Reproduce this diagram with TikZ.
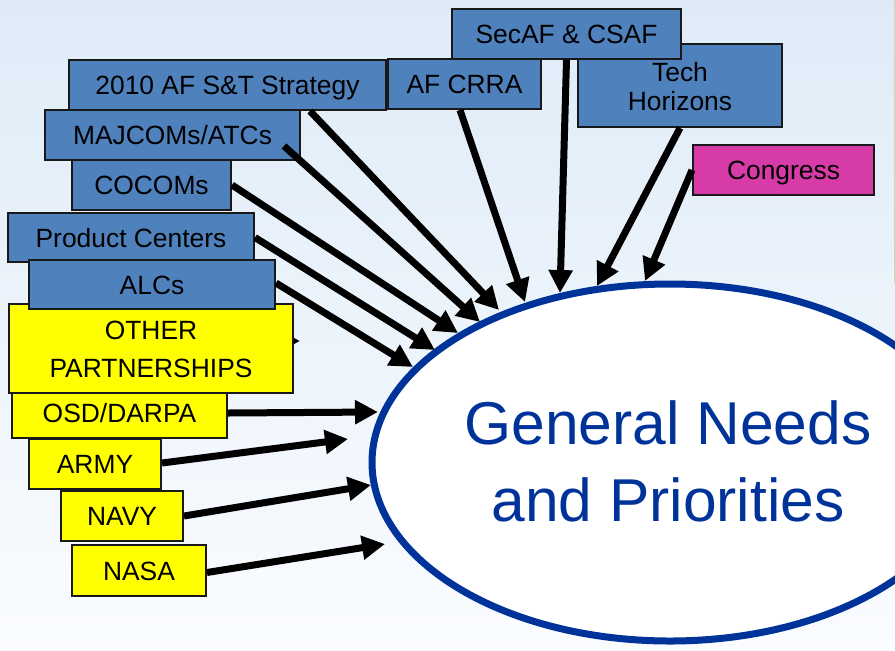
\documentclass[tikz,border=0pt]{standalone}
\usepackage{fontspec}
\setmainfont{Liberation Sans}
\usetikzlibrary{arrows.meta,shapes.geometric}
\definecolor{afblue}{RGB}{79,129,189}
\definecolor{partyellow}{RGB}{255,255,0}
\definecolor{congpink}{RGB}{215,59,168}
\definecolor{navyline}{RGB}{0,51,153}
\definecolor{bgtop}{RGB}{222,235,247}
\definecolor{bgbottom}{RGB}{250,252,255}
\definecolor{edgegreen}{RGB}{190,225,180}
\definecolor{boxedge}{RGB}{25,25,25}

\begin{document}
\begin{tikzpicture}[x=0.5pt,y=-0.5pt,
  box/.style={draw=boxedge, line width=1pt, inner sep=0pt,
    font=\fontsize{13.2pt}{15.5pt}\selectfont, text height=9.5pt, text depth=0pt},
  afbox/.style={box, fill=afblue},
  ptbox/.style={box, fill=partyellow},
  lbl/.style={inner sep=0pt, font=\fontsize{13.2pt}{15.5pt}\selectfont, anchor=base},
  big/.style={inner sep=0pt, text=navyline, font=\fontsize{30.25pt}{38.5pt}\selectfont, anchor=base},
  feed/.style={line width=3.5pt, draw=black, -{Triangle[length=11.5pt,width=11.5pt]}},
]
\useasboundingbox (0,0) rectangle (895,650);
\clip (0,0) rectangle (895,650);

% backdrop
\shade[top color=bgtop, bottom color=bgbottom] (0,0) rectangle (895,650);
\draw[edgegreen, line width=0.5pt] (894,0) -- (894,283);

% central ellipse
\node[ellipse, draw=navyline, line width=3.5pt, fill=white, inner sep=0pt,
  minimum width=298pt, minimum height=178.5pt] (needs) at (670,462.5) {};
\node[big] (needsA) at (668,444) {General Needs};
\node[big] (needsB) at (668,521) {and Priorities};

% arrow tips on the ellipse side
\coordinate (t2010) at (499,310);
\coordinate (tmaj)  at (480,322);
\coordinate (tcoc)  at (458,333);
\coordinate (tprod) at (435,350);
\coordinate (talc)  at (413,367);
\coordinate (tcrra) at (525,302);
\coordinate (tsec)  at (560,293);
\coordinate (ttech) at (597,286);
\coordinate (tcong) at (645,281);
\coordinate (tosd)  at (378,412);
\coordinate (tarmy) at (348,439);
\coordinate (tnavy) at (371,485);
\coordinate (tnasa) at (385,544);
\coordinate (sother) at (240,341);
\coordinate (tother) at (300,341);

% Air Force sources
\node[afbox, minimum width=76.5pt, minimum height=25pt] (bcrra) at (464.5,84) {AF CRRA};
\node[afbox, minimum width=102pt, minimum height=41.5pt] (btech) at (680,85.5) {};
\node[lbl] (ltechA) at (680,81) {Tech};
\node[lbl] (ltechB) at (680,110) {Horizons};
\node[afbox, minimum width=114.5pt, minimum height=25pt] (bsec) at (566.5,34) {SecAF \& CSAF};
\node[box, fill=congpink, minimum width=90.5pt, minimum height=25pt] (bcong) at (783.5,170) {Congress};

\node[afbox, minimum width=127.5pt, minimum height=25pt] (bmaj) at (172.5,135) {MAJCOMs/ATCs};
\node[afbox, minimum width=158.5pt, minimum height=25pt] (b2010) at (227.5,85) {2010 AF S\&T Strategy};
\node[afbox, minimum width=79.5pt, minimum height=25pt] (bcoc) at (151.5,185) {COCOMs};
\node[afbox, minimum width=123pt, minimum height=24.5pt] (bprod) at (131,237.5) {Product Centers};

% partner sources
\node[ptbox, minimum width=107.5pt, minimum height=25pt] (bosd) at (119.5,413) {OSD/DARPA};
\draw[feed] (sother) -- (tother);
\node[ptbox, minimum width=142pt, minimum height=44.5pt] (bother) at (151,348.5) {};
\node[lbl] (lotherA) at (151,339) {OTHER};
\node[lbl] (lotherB) at (151,377) {PARTNERSHIPS};
\node[afbox, minimum width=123pt, minimum height=24.5pt] (balc) at (152,284.5) {ALCs};
\node[ptbox, minimum width=66pt, minimum height=25pt] (barmy) at (95,464) {ARMY};
\node[ptbox, minimum width=61pt, minimum height=25pt] (bnavy) at (122,516) {NAVY};
\node[ptbox, minimum width=67pt, minimum height=25.5pt] (bnasa) at (139,570.5) {NASA};

% inputs feeding the needs
\draw[feed] ([shift={(82.5,0)}]b2010.south) -- (t2010);
\draw[feed] ([shift={(111.5,11)}]bmaj.center) -- (tmaj);
\draw[feed] (bcoc.east) -- (tcoc);
\draw[feed] (bprod.east) -- (tprod);
\draw[feed] ([shift={(0,-1.5)}]balc.east) -- (talc);
\draw[feed] ([shift={(-4.5,0)}]bcrra.south) -- (tcrra);
\draw[feed] (bsec.south) -- (tsec);
\draw[feed] (btech.south) -- (ttech);
\draw[feed] (bcong.west) -- (tcong);
\draw[feed] (bosd.east) -- (tosd);
\draw[feed] ([shift={(0,-1)}]barmy.east) -- (tarmy);
\draw[feed] (bnavy.east) -- (tnavy);
\draw[feed] ([shift={(0,2)}]bnasa.east) -- (tnasa);
\end{tikzpicture}
\end{document}
